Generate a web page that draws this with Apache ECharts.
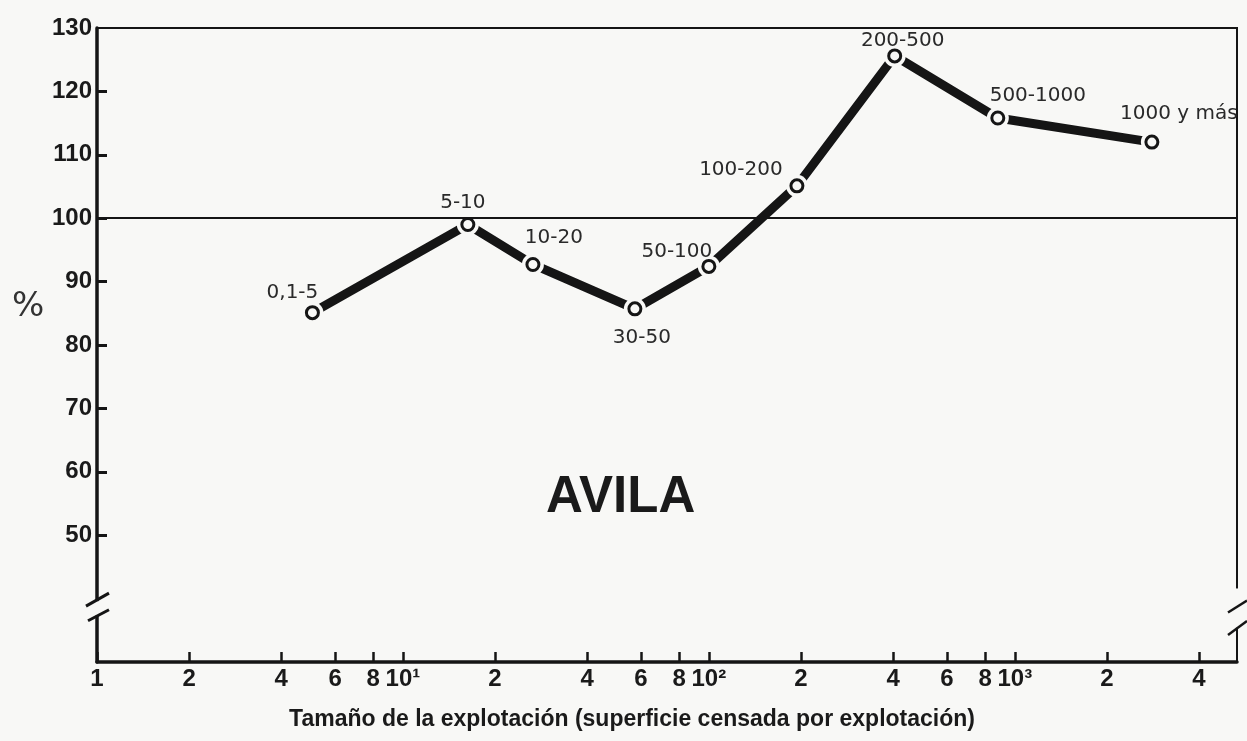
<!DOCTYPE html>
<html>
<head>
<meta charset="utf-8">
<script src="https://cdn.jsdelivr.net/npm/echarts@6/dist/echarts.min.js"></script>
<style>
html,body{margin:0;padding:0;background:#f8f8f6;}
#c{width:1247px;height:741px;}
</style>
</head>
<body>
<div id="c"></div>
<script>
// ---- data ----
const categories = ['0,1-5','5-10','10-20','30-50','50-100','100-200','200-500','500-1000','1000 y más'];
const sizeValues = [5.06, 16.3, 26.6, 57.3, 100, 194, 405, 880, 2806];
const pctValues  = [85.1, 99.0, 92.7, 85.7, 92.4, 105.1, 125.6, 115.8, 112.0];
const labelOffsets = [[-20,-20],[-5,-22],[21,-27],[7,29],[-32,-15],[-56,-16],[8,-15],[40,-22],[27,-28]];
const xTickValues = [1,2,4,6,8,10,20,40,60,80,100,200,400,600,800,1000,2000,4000];
const xTickLabels = ['1','2','4','6','8','10\u00b9','2','4','6','8','10\u00b2','2','4','6','8','10\u00b3','2','4'];
const yLabelValues = [50,60,70,80,90,100,110,120,130];
const yTickValues = [50,60,70,80,90,100,110,120];
const xName = 'Tamaño de la explotación (superficie censada por explotación)';
const regionName = 'AVILA';
const BG = '#f8f8f6';
const INK = '#151515';

const chart = echarts.init(document.getElementById('c'), null, {renderer:'canvas'});

const pts = sizeValues.map((x,i)=>[x,pctValues[i]]);

const option = {
  backgroundColor: BG,
  animation: false,
  grid: {left:97, right:10, top:28, bottom:79, show:true, borderColor:INK, borderWidth:2},
  xAxis: {
    type:'log', min:1, max:5325, logBase:10,
    name: xName, nameLocation:'middle', nameGap:46,
    nameTextStyle:{fontFamily:'Liberation Sans, sans-serif', fontWeight:'bold', fontSize:23, color:'#1a1a1a', padding:[0,70,0,0]},
    axisLine:{show:true, lineStyle:{color:INK, width:3.5}},
    axisTick:{show:true, inside:true, length:10, lineStyle:{color:INK, width:2.5}, customValues:xTickValues},
    axisLabel:{show:true, margin:5, fontFamily:'Liberation Sans, sans-serif', fontWeight:'bold', fontSize:24, color:'#1a1a1a',
      customValues:xTickValues,
      formatter:function(v){
        let best=0, bd=1e9;
        xTickValues.forEach((t,i)=>{const d=Math.abs(Math.log10(t)-Math.log10(v)); if(d<bd){bd=d;best=i;}});
        return xTickLabels[best];
      }},
    splitLine:{show:false}, minorTick:{show:false}
  },
  yAxis: {
    type:'value', min:30, max:130, interval:10,
    axisLine:{show:true, lineStyle:{color:INK, width:3.5}},
    axisTick:{show:true, inside:true, length:10, lineStyle:{color:INK, width:3}, customValues:yTickValues},
    axisLabel:{show:true, margin:5, fontFamily:'Liberation Sans, Arial, sans-serif', fontWeight:'bold', fontSize:24, color:'#1a1a1a', customValues:yLabelValues},
    splitLine:{show:false}
  },
  series: [
    {
      type:'line', data:pts, symbol:'none', z:2,
      lineStyle:{color:INK, width:9, cap:'butt'}
    },
    {
      type:'scatter', data:pts, symbol:'circle', symbolSize:22, z:3,
      itemStyle:{color:BG, opacity:1}, silent:true
    },
    {
      type:'scatter', z:5,
      data: pts.map((p,i)=>({value:p, label:{offset:labelOffsets[i]}})),
      symbol:'circle', symbolSize:12,
      itemStyle:{color:BG, borderColor:INK, borderWidth:3, opacity:1},
      label:{show:true, position:'inside', align:'center', verticalAlign:'middle',
        fontFamily:'DejaVu Sans, sans-serif', fontSize:20, color:'#2a2a2a',
        formatter:function(p){return categories[p.dataIndex];}},
      markLine:{silent:true, symbol:['none','none'], label:{show:false},
        lineStyle:{color:INK, width:2.2, type:'solid'},
        data:[{yAxis:100}]}
    }
  ],
  graphic: []
};
chart.setOption(option);

// decorations: axis break marks, % sign, region name
function px(xv,yv){return chart.convertToPixel({gridIndex:0},[xv,yv]);}
const leftX = px(1,40)[0];
const rightX = px(5325,40)[0];
const lg1 = px(1,39.6)[1], lg2 = px(1,37.3)[1];
const rg1 = px(1,41.6)[1], rg2 = px(1,35.4)[1];
const rm1 = px(1,38.6)[1], rm2 = px(1,35.2)[1];
const g = [];
g.push({type:'rect', shape:{x:leftX-4, y:lg1, width:8, height:lg2-lg1}, style:{fill:BG}, z:100});
g.push({type:'line', shape:{x1:leftX-11, y1:lg1+5, x2:leftX+12, y2:lg1-8}, style:{stroke:INK, lineWidth:3}, z:101});
g.push({type:'line', shape:{x1:leftX-9, y1:lg2+5, x2:leftX+12, y2:lg2-6}, style:{stroke:INK, lineWidth:3}, z:101});
g.push({type:'rect', shape:{x:rightX-3, y:rg1, width:6, height:rg2-rg1}, style:{fill:BG}, z:100});
g.push({type:'line', shape:{x1:rightX-9, y1:rm1+5, x2:rightX+10, y2:rm1-7}, style:{stroke:INK, lineWidth:2.5}, z:101});
g.push({type:'line', shape:{x1:rightX-9, y1:rm2+6, x2:rightX+10, y2:rm2-8}, style:{stroke:INK, lineWidth:2.5}, z:101});
g.push({type:'text', left:12, top:290, style:{text:'%', fontFamily:'DejaVu Sans, sans-serif', fontSize:34, fill:'#333'}, z:101});
g.push({type:'text', left:546, top:472, style:{text:regionName, fontFamily:'Liberation Sans, Arial, sans-serif', fontWeight:'bold', fontSize:51, fill:'#1a1a1a'}, z:101});
chart.setOption({graphic:g});
</script>
</body>
</html>
